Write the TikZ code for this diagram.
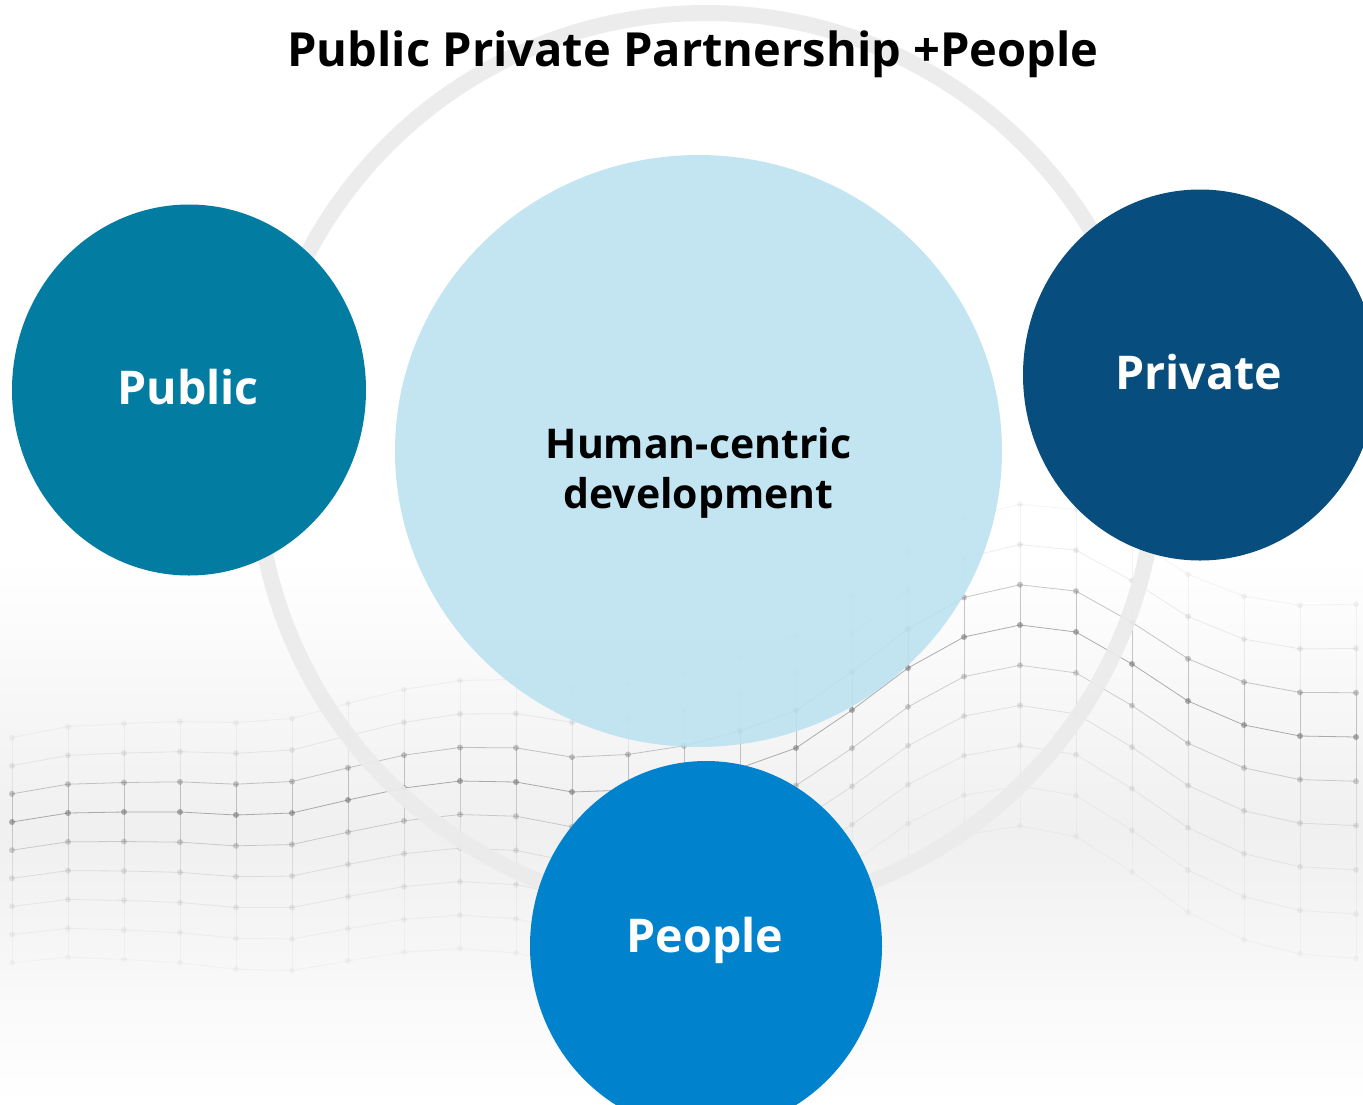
\documentclass[tikz,border=0pt]{standalone}
\usepackage{fontspec}
\setmainfont{Open Sans}
\usetikzlibrary{shapes.geometric}
\definecolor{publicc}{RGB}{2,124,161}
\definecolor{privatec}{RGB}{7,77,126}
\definecolor{peoplec}{RGB}{1,130,205}
\definecolor{centerc}{RGB}{187,226,240}
\definecolor{ringc}{RGB}{235,235,235}
\definecolor{meshc}{RGB}{110,110,110}
\begin{document}
\begin{tikzpicture}[x=1pt,y=-1pt,
  blob/.style={ellipse, inner sep=0pt, draw=none},
  circtxt/.style={font=\fontsize{46.5}{50}\selectfont\bfseries, text=white, anchor=base, inner sep=0pt},
  centtxt/.style={font=\fontsize{41}{50}\selectfont\bfseries, text=black, anchor=base, inner sep=0pt},
  titletxt/.style={font=\fontsize{47}{52}\selectfont\bfseries, text=black, anchor=base, inner sep=0pt},
  meshline/.style={meshc, line width=0.8pt}]
\useasboundingbox (0,0) rectangle (1363,1104);
\clip (0,0) rectangle (1363,1104);
\fill[white] (0,0) rectangle (1363,1104);
% soft haze behind the mesh
\shade[top color=white, bottom color=white, middle color=black!6] (0,560) rectangle (1363,1104);
% mesh
\def\basey{{822,813,812,812,815,813,800,788,781,782,792,790,782,768,748,710,668,637,625,632,664,701,725,736,737}}
\def\opl{{0.07,0.12,0.38,0.55,0.3,0.17,0.11,0.07,0.05}}
\foreach \i in {0,...,24} {
  \foreach \j in {-3,...,5} {
    \pgfmathsetmacro\xx{12+56*\i}
    \pgfmathsetmacro\yy{\basey[\i]+\j*(28+0.012*\xx)}
    \coordinate (m-\i-\j) at (\xx,\yy);
  }
}
\foreach \j in {-3,...,5} {
  \pgfmathsetmacro\op{\opl[\j+3]}
  \draw[meshline, draw opacity=\op] (m-0-\j) \foreach \i in {1,...,24} { -- (m-\i-\j) };
  \foreach \i in {0,...,24} {
    \fill[meshc, fill opacity=\op] (m-\i-\j) circle[radius=3pt];
  }
}
\foreach \j in {-3,...,4} {
  \pgfmathtruncatemacro\k{\j+1}
  \pgfmathsetmacro\op{min(\opl[\j+3],\opl[\j+4])}
  \foreach \i in {0,...,24} {
    \draw[meshline, draw opacity=\op] (m-\i-\j) -- (m-\i-\k);
  }
}
% big ring
\draw[ringc, line width=16pt, opacity=0.92] (706,463) circle[radius=450pt];
% circles
\node[blob, fill=centerc, fill opacity=0.88, minimum width=607pt, minimum height=592pt] (center) at (698.5,451) {};
\node[blob, fill=publicc, minimum width=354pt, minimum height=371pt] (public) at (189,390) {};
\node[blob, fill=privatec, minimum width=354pt, minimum height=371pt] (private) at (1200,375) {};
\node[blob, fill=peoplec, minimum width=352pt, minimum height=370pt] (people) at (706,946) {};
% texts
\node[circtxt] (publict) at (188,404) {Public};
\node[circtxt] (privatet) at (1198.5,389) {Private};
\node[circtxt] (peoplet) at (705,952) {People};
\node[centtxt] (centt1) at (698.5,458) {Human-centric};
\node[centtxt] (centt2) at (698.5,508) {development};
\node[titletxt] (title) at (693,66) {Public Private Partnership +People};
\end{tikzpicture}
\end{document}
